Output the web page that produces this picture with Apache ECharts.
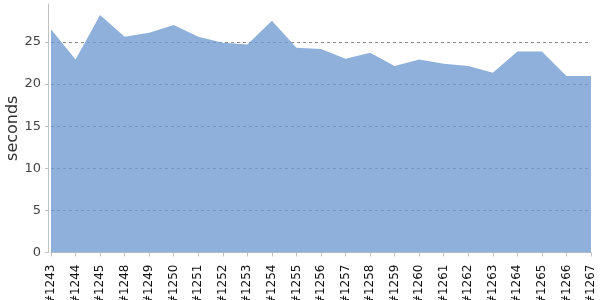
<!DOCTYPE html>
<html><head><meta charset="utf-8">
<script src="https://cdn.jsdelivr.net/npm/echarts@6/dist/echarts.min.js"></script>
<style>html,body{margin:0;padding:0;background:#fff}#c{width:600px;height:300px}</style>
</head><body><div id="c"></div>
<script>
const categories = ['#1243','#1244','#1245','#1248','#1249','#1250','#1251','#1252','#1253','#1254','#1255','#1256','#1257','#1258','#1259','#1260','#1261','#1262','#1263','#1264','#1265','#1266','#1267'];
const seconds = [26.5,22.9,28.2,25.6,26.1,27.0,25.6,24.9,24.7,27.5,24.3,24.15,23.0,23.7,22.15,22.9,22.4,22.15,21.35,23.85,23.85,20.95,20.95];
const yTicks = [0,5,10,15,20,25];

const chart = echarts.init(document.getElementById('c'));
chart.setOption({
  animation: false,
  grid: {left: 51, right: 9, top: 4, bottom: 47.5, containLabel: false, outerBoundsMode: 'none'},
  xAxis: {
    type: 'category', data: categories, boundaryGap: false, offset: 4,
    axisLine: {lineStyle: {color: '#c0c0c0', width: 1}},
    axisTick: {alignWithLabel: true, length: 4, lineStyle: {color: '#c0c0c0'}},
    axisLabel: {rotate: 90, interval: 0, color: '#111', fontFamily: 'DejaVu Sans', fontSize: 12, margin: 8},
    splitLine: {show: false}
  },
  yAxis: {
    type: 'value', min: 0, max: 29.5, interval: 5, offset: 3,
    name: 'seconds', nameLocation: 'middle', nameGap: 27, nameMoveOverlap: false,
    nameTextStyle: {fontFamily: 'DejaVu Sans', fontSize: 16, color: '#333'},
    axisLine: {show: true, lineStyle: {color: '#c0c0c0'}},
    axisTick: {show: true, length: 3, lineStyle: {color: '#c0c0c0'}},
    axisLabel: {color: '#444', fontFamily: 'DejaVu Sans', fontSize: 13, margin: 7, showMaxLabel: false,
      formatter: v => yTicks.includes(v) ? String(v) : ''},
    splitLine: {show: true, showMinLine: false, showMaxLine: false, lineStyle: {color: '#8a8a8a', type: [3,3], width: 1}}
  },
  series: [{
    type: 'line', data: seconds, symbol: 'none',
    lineStyle: {width: 0},
    areaStyle: {color: 'rgb(110,154,207)', opacity: 0.78},
    z: 2
  }]
});
</script></body></html>
